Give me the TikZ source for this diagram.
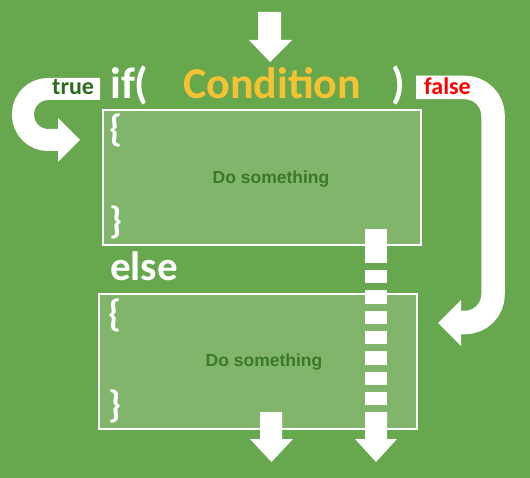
\documentclass[tikz,border=0pt]{standalone}
\usepackage{fontspec}
\setmainfont{Carlito}
\newfontfamily\arialfont{Liberation Sans}
\definecolor{bggreen}{HTML}{67A84F}
\definecolor{boxgreen}{HTML}{81B56B}
\definecolor{condyellow}{HTML}{F4C232}
\definecolor{truegreen}{HTML}{2E6A1C}
\definecolor{dogreen}{HTML}{3B7A24}
\definecolor{falsered}{HTML}{FF0000}
\tikzset{
  codebox/.style={draw=white, line width=1.6pt, fill=boxgreen, minimum width=318pt, minimum height=135pt, inner sep=0pt},
  kw/.style={text=white, font=\bfseries\fontsize{44}{44}\selectfont, inner sep=0pt, anchor=base west},
  brace/.style={text=white, font=\bfseries\fontsize{38}{38}\selectfont, inner sep=0pt},
  dotext/.style={text=dogreen, font=\arialfont\bfseries\fontsize{17.5}{17.5}\selectfont, inner sep=0pt},
  lbl/.style={font=\bfseries\fontsize{24}{24}\selectfont, inner sep=0pt, anchor=base west},
  band/.style={draw=white, line cap=butt},
  arrowfill/.style={fill=white, draw=none}
}
\begin{document}
\begin{tikzpicture}[x=1pt, y=-1pt]
\fill[bggreen] (0,0) rectangle (530,478);
\useasboundingbox (0,0) rectangle (530,478);

% boxes
\node[codebox] (ifbox) at (262,177.75) {};
\node[codebox] (elsebox) at (258,361.5) {};

% top arrow
\fill[arrowfill] (258,12) -- (281,12) -- (281,40) -- (292,40) -- (270,62) -- (249,40) -- (258,40) -- cycle;

% true arrow
\draw[band, line width=22pt, rounded corners=25pt] (100,89) -- (23,89) -- (23,140) -- (59,140);
\fill[arrowfill] (58,118) -- (80,140) -- (58,162) -- cycle;
\node[lbl, text=truegreen] (truelbl) at (52,95) {true};

% false arrow
\draw[band, line width=23.5pt, rounded corners=28pt] (416,87.5) -- (493,87.5) -- (493,322.5) -- (460,322.5);
\fill[arrowfill] (461,300) -- (438,323) -- (461,346) -- cycle;
\node[lbl, text=falsered] (falselbl) at (424,95) {false};

% keywords
\node[kw] (iftext) at (110,99) {if(};
\node[kw, text=condyellow] (cond) at (183,99) {Condition};
\node[kw] (close) at (391,99) {)};
\node[kw, font=\bfseries\fontsize{41}{41}\selectfont] (elsetext) at (110,280) {else};

% braces
\node[brace] (lb1) at (116,130) {\{};
\node[brace] (rb1) at (116,222) {\}};
\node[brace] (lb2) at (115,315) {\{};
\node[brace] (rb2) at (115,406) {\}};

% texts
\node[dotext] (do1) at (271,179) {Do something};
\node[dotext] (do2) at (264,362) {Do something};

% bottom small arrow
\fill[arrowfill] (260,412) -- (282,412) -- (282,439) -- (293,439) -- (271.5,462) -- (250,439) -- (260,439) -- cycle;

% dashed arrow
\fill[arrowfill] (365,229) rectangle (387,263);
\foreach \yy in {270,290.3,310.6,330.9,351.2,371.5,391.8}
  \fill[arrowfill] (365,\yy) rectangle (387,\yy+13.5);
\fill[arrowfill] (365,412) -- (387,412) -- (387,439) -- (397,439) -- (376,462) -- (355,439) -- (365,439) -- cycle;
\end{tikzpicture}
\end{document}
